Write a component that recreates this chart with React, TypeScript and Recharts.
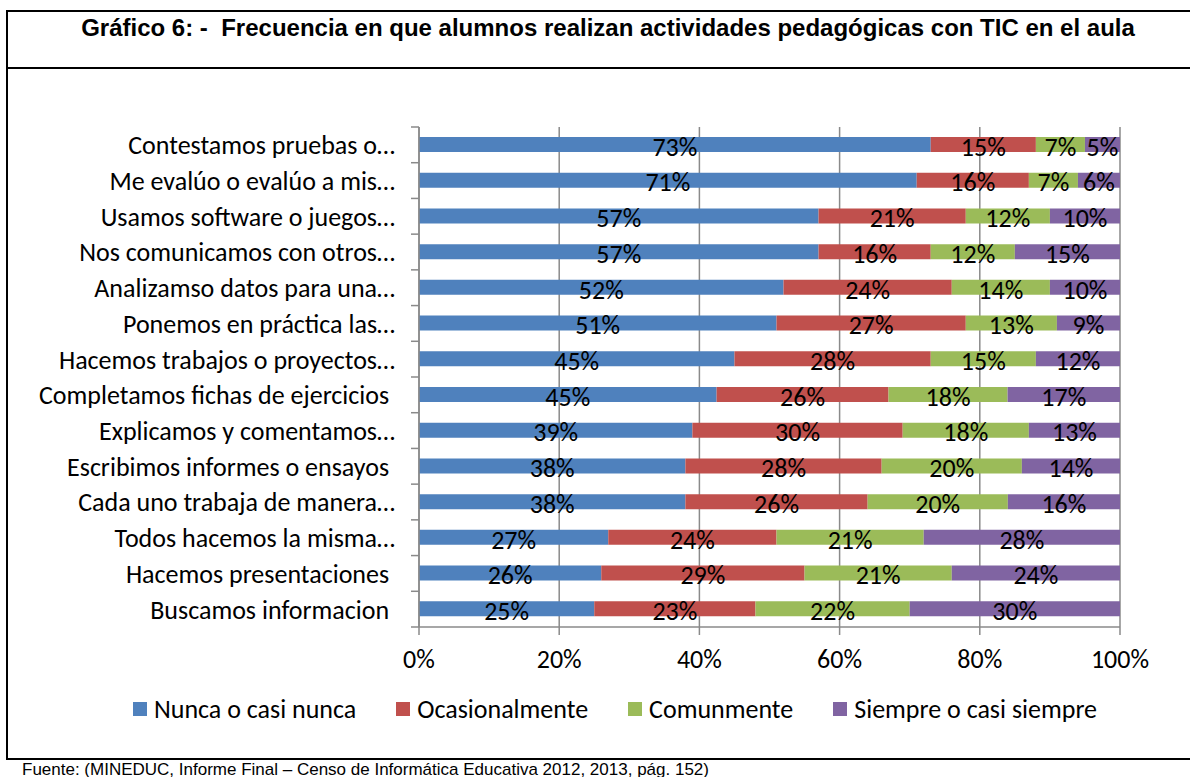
import { BarChart, Bar, XAxis, YAxis, CartesianGrid, Legend, LabelList } from "recharts";

const categories = [
  "Contestamos pruebas o…",
  "Me evalúo o evalúo a mis…",
  "Usamos software o juegos…",
  "Nos comunicamos con otros…",
  "Analizamso datos para una…",
  "Ponemos en práctica las…",
  "Hacemos trabajos o proyectos…",
  "Completamos fichas de ejercicios\u00a0",
  "Explicamos y comentamos…",
  "Escribimos informes o ensayos\u00a0",
  "Cada uno trabaja de manera…",
  "Todos hacemos la misma…",
  "Hacemos presentaciones\u00a0",
  "Buscamos informacion\u00a0",
];

const nunca = [73, 71, 57, 57, 52, 51, 45, 45, 39, 38, 38, 27, 26, 25];
const ocasionalmente = [15, 16, 21, 16, 24, 27, 28, 26, 30, 28, 26, 24, 29, 23];
const comunmente = [7, 7, 12, 12, 14, 13, 15, 18, 18, 20, 20, 21, 21, 22];
const siempre = [5, 6, 10, 15, 10, 9, 12, 17, 13, 14, 16, 28, 24, 30];

const xTicks = [0, 0.2, 0.4, 0.6, 0.8, 1];

const series = [
  { key: "nunca", name: "Nunca o casi nunca", color: "#4F81BD" },
  { key: "ocasionalmente", name: "Ocasionalmente", color: "#C0504D" },
  { key: "comunmente", name: "Comunmente", color: "#9BBB59" },
  { key: "siempre", name: "Siempre o casi siempre", color: "#8064A2" },
];

const data = categories.map((label, i) => ({
  label,
  nunca: nunca[i],
  ocasionalmente: ocasionalmente[i],
  comunmente: comunmente[i],
  siempre: siempre[i],
}));

const FONT = "Carlito, Calibri, Lato, sans-serif";
const AXIS = "#8a8a8a";

function YTick(props: any) {
  const { x, y, payload, index } = props;
  const half = payload && payload.offset ? payload.offset : 500 / 14 / 2;
  const ax = x + 24;
  return (
    <g>
      <line x1={ax - 8} x2={ax} y1={y + half} y2={y + half} stroke={AXIS} strokeWidth={1.5} />
      {index === 0 && <line x1={ax - 8} x2={ax} y1={y - half} y2={y - half} stroke={AXIS} strokeWidth={1.5} />}
      <text x={x} y={y} dy="0.36em" textAnchor="end" fontSize={26} fontFamily={FONT} fill="#000">
        {payload.value}
      </text>
    </g>
  );
}

function LegendContent() {
  return (
    <div style={{ display: "flex", justifyContent: "center", fontFamily: FONT, fontSize: 26, color: "#000" }}>
      {series.map((s) => (
        <div key={s.key} style={{ display: "flex", alignItems: "center", margin: "0 20px" }}>
          <span style={{ display: "inline-block", width: 14, height: 14, background: s.color, marginRight: 7 }} />
          <span>{s.name}</span>
        </div>
      ))}
    </div>
  );
}

export default function App() {
  return (
    <div style={{ position: "absolute", left: 0, top: 0, width: 1190, height: 777, overflow: "hidden", background: "#fff" }}>
      <div
        style={{
          position: "absolute",
          left: 6,
          top: 10,
          width: 1200,
          height: 746,
          border: "2px solid #000",
        }}
      />
      <div style={{ position: "absolute", left: 6, top: 67, width: 1204, borderTop: "2px solid #000" }} />
      <div
        style={{
          position: "absolute",
          left: 6,
          top: 14,
          width: 1204,
          textAlign: "center",
          fontFamily: "Arial, 'Liberation Sans', sans-serif",
          fontWeight: "bold",
          fontSize: 24,
          whiteSpace: "pre",
        }}
      >
        {"Gráfico 6: -  Frecuencia en que alumnos realizan actividades pedagógicas con TIC en el aula"}
      </div>
      <div
        style={{
          position: "absolute",
          left: 22,
          top: 760,
          fontFamily: "Arial, 'Liberation Sans', sans-serif",
          fontSize: 17,
          whiteSpace: "pre",
        }}
      >
        Fuente: (MINEDUC, Informe Final – Censo de Informática Educativa 2012, 2013, pág. 152)
      </div>
      <div style={{ position: "absolute", left: 0, top: 0 }}>
        <BarChart
          width={1190}
          height={745}
          data={data}
          layout="vertical"
          stackOffset="expand"
          barSize={15}
          margin={{ top: 127, right: 70, left: 0, bottom: 46 }}
        >
          <CartesianGrid horizontal={false} stroke={AXIS} strokeWidth={1.5} />
          <XAxis
            type="number"
            domain={[0, 1]}
            ticks={xTicks}
            tickFormatter={(v: number) => `${Math.round(v * 100)}%`}
            axisLine={{ stroke: AXIS, strokeWidth: 1.5 }}
            tickLine={{ stroke: AXIS, strokeWidth: 1.5 }}
            tickSize={8}
            tickMargin={15}
            height={40}
            tick={{ fill: "#000", fontSize: 26, fontFamily: FONT }}
          />
          <YAxis
            type="category"
            dataKey="label"
            width={419}
            axisLine={{ stroke: AXIS, strokeWidth: 1.5 }}
            tickLine={false}
            tickSize={0}
            tickMargin={24}
            interval={0}
            tick={<YTick />}
          />
          <Legend verticalAlign="bottom" content={<LegendContent />} wrapperStyle={{ top: 693, left: 110, width: 1010 }} />
          {series.map((s) => (
            <Bar key={s.key} dataKey={s.key} name={s.name} stackId="a" fill={s.color} isAnimationActive={false}>
              <LabelList
                dataKey={s.key}
                position="center"
                formatter={(v: any) => `${v}%`}
                fill="#000"
                fontSize={26}
                fontFamily={FONT}
                dy={2}
              />
            </Bar>
          ))}
        </BarChart>
      </div>
    </div>
  );
}
